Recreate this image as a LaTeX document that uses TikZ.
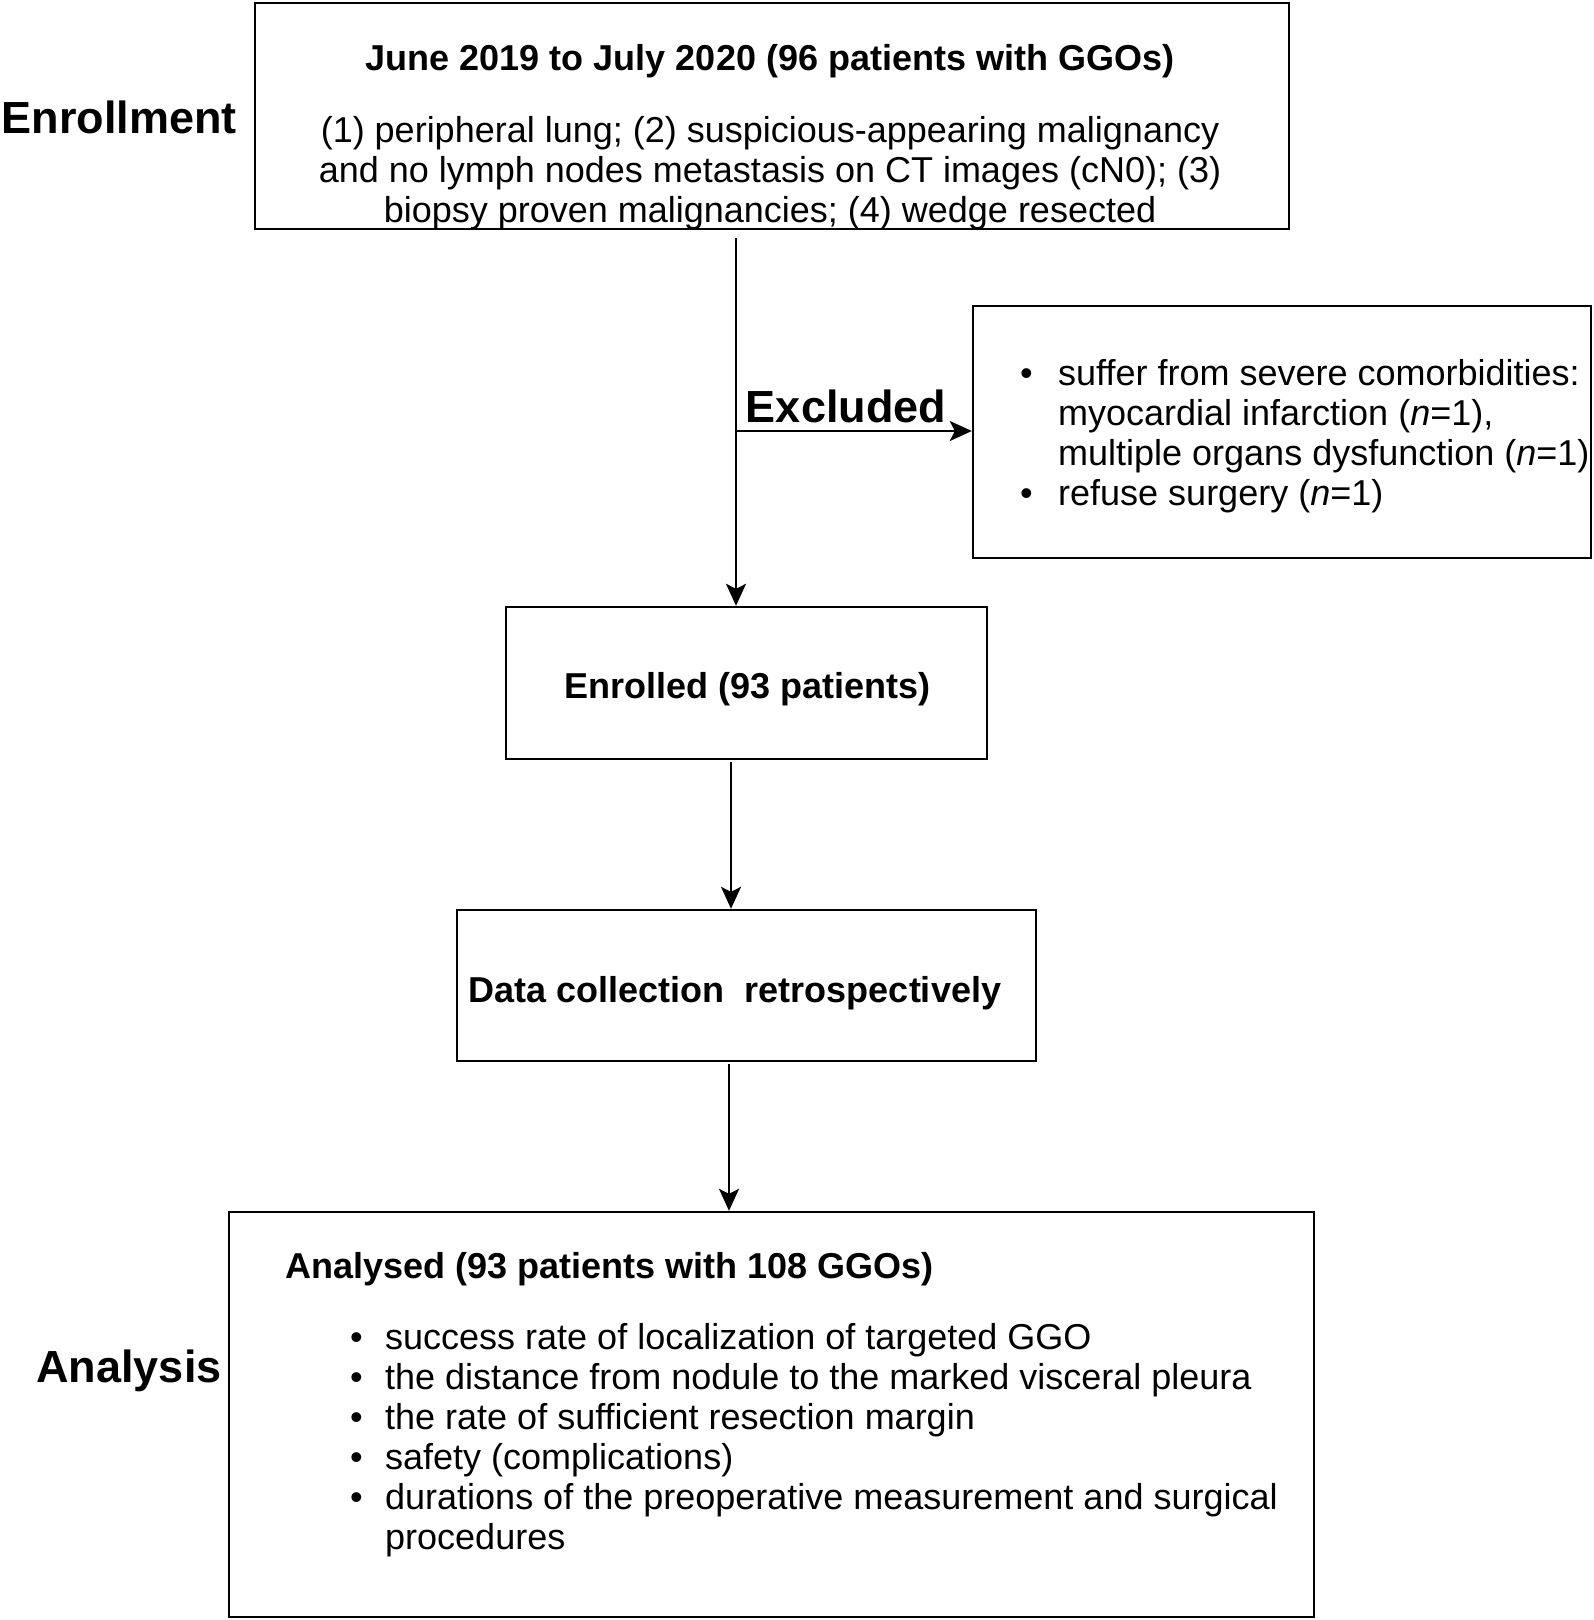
\documentclass[tikz,border=0pt]{standalone}
\usepackage{fontspec}
\setmainfont{Liberation Sans}
\usetikzlibrary{arrows.meta}
\begin{document}
\begin{tikzpicture}[x=1pt,y=-1pt,
  every node/.style={font=\fontsize{36}{40}\selectfont, inner sep=0pt},
  box/.style={draw, line width=2.4pt, inner sep=0pt},
  big/.style={font=\fontsize{45}{50}\selectfont\bfseries, anchor=base},
  arr/.style={line width=2pt, -{Stealth[length=22pt,width=20pt,inset=5pt]}}]
\useasboundingbox (0,0) rectangle (1594,1620);
\fill[white] (0,0) rectangle (1594,1620);

% boxes
\node[box, minimum width=1034pt, minimum height=226pt] (top) at (772,116) {};
\node[box, minimum width=618pt, minimum height=252pt] (excl) at (1282,432) {};
\node[box, minimum width=481pt, minimum height=152pt] (enrolled) at (746.5,683) {};
\node[box, minimum width=579pt, minimum height=151pt] (data) at (746.5,985.5) {};
\node[box, minimum width=1085pt, minimum height=405pt] (anal) at (771.5,1414.5) {};

% side labels
\node[big] (lenr) at (119,133) {Enrollment};
\node[big] (lexc) at (846,422) {Excluded};
\node[big] (lana) at (129,1382) {Analysis};

% top box text
\node[anchor=base, font=\fontsize{36}{40}\selectfont\bfseries] (tophead) at (770,70) {June 2019 to July 2020 (96 patients with GGOs)};
\node[anchor=base] (topbody) at (770,142) {\begin{tabular}[t]{@{}c@{}}
(1) peripheral lung; (2) suspicious-appearing malignancy\\
and no lymph nodes metastasis on CT images (cN0); (3)\\
biopsy proven malignancies; (4) wedge resected
\end{tabular}};

% excluded text
\node[anchor=base west] (excltext) at (1020,385) {\begin{tabular}[t]{@{}l@{}}
\makebox[38pt][l]{\textbullet}suffer from severe comorbidities:\\
\hspace*{38pt}myocardial infarction (\textit{n}=1),\\
\hspace*{38pt}multiple organs dysfunction (\textit{n}=1)\\
\makebox[38pt][l]{\textbullet}refuse surgery (\textit{n}=1)
\end{tabular}};

% enrolled / data
\node[anchor=base, font=\fontsize{36}{40}\selectfont\bfseries] (enrtext) at (747.5,698) {Enrolled (93 patients)};
\node[anchor=base, font=\fontsize{36}{40}\selectfont\bfseries] (datatext) at (735,1002) {Data collection\ \ retrospectively};

% analysed
\node[anchor=base west, font=\fontsize{36}{40}\selectfont\bfseries] (analhead) at (285,1278) {Analysed (93 patients with 108 GGOs)};
\node[anchor=base west] (analtext) at (350,1349) {\begin{tabular}[t]{@{}l@{}}
\makebox[35pt][l]{\textbullet}success rate of localization of targeted GGO\\
\makebox[35pt][l]{\textbullet}the distance from nodule to the marked visceral pleura\\
\makebox[35pt][l]{\textbullet}the rate of sufficient resection margin\\
\makebox[35pt][l]{\textbullet}safety (complications)\\
\makebox[35pt][l]{\textbullet}durations of the preoperative measurement and surgical\\
\hspace*{35pt}procedures
\end{tabular}};

% connectors
\coordinate (s1) at (736,238);
\coordinate (j) at (736,431);
\coordinate (s2) at (731,762);
\coordinate (s3) at (729,1064);
\draw[arr] (s1) -- (s1 |- enrolled.north);
\draw[arr] (j) -- (j -| excl.west);
\draw[arr] (s2) -- (s2 |- data.north);
\draw[arr] (s3) -- (s3 |- anal.north);
\end{tikzpicture}
\end{document}
